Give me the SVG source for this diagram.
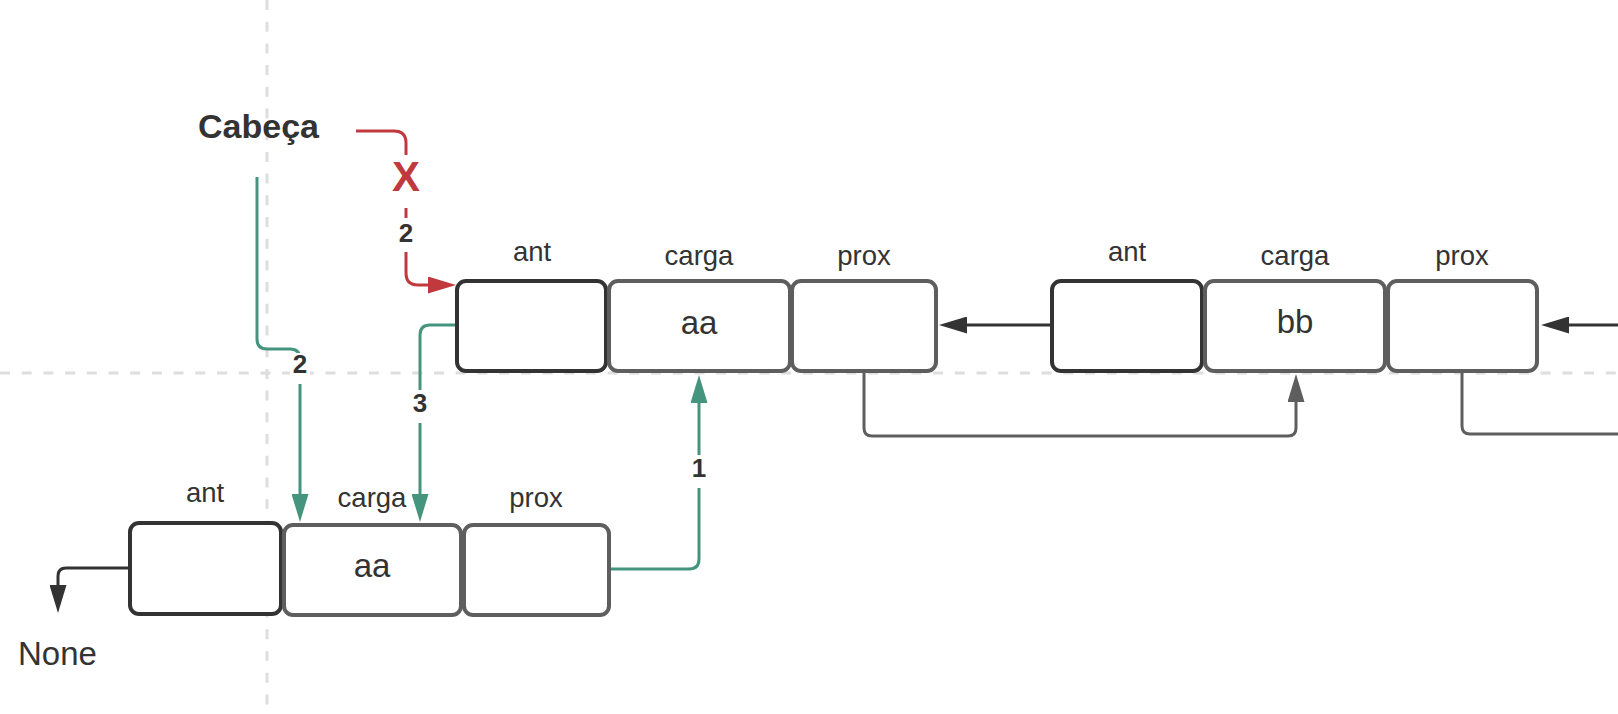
<svg xmlns="http://www.w3.org/2000/svg" width="1618" height="714" viewBox="0 0 1618 714">
<style>
text{font-family:"Liberation Sans",Arial,sans-serif;fill:#333333}
.lbl{font-size:27.5px;text-anchor:middle}
.val{font-size:33px;text-anchor:middle}
.num{font-size:26px;font-weight:bold;text-anchor:middle}
.ant{fill:#ffffff;stroke:#333333;stroke-width:4}
.box{fill:#ffffff;stroke:#5e5e5e;stroke-width:4}
.grid{stroke:#dedede;stroke-width:3;stroke-dasharray:10 11.7;fill:none}
.c{fill:none;stroke-width:3}
.bg{fill:#ffffff}
</style>
<defs>
<marker id="mRed" markerUnits="userSpaceOnUse" markerWidth="28" markerHeight="17" refX="0" refY="8.5" orient="auto"><path d="M0,0 L28,8.5 L0,17 z" fill="#c0393d"/></marker>
<marker id="mGreen" markerUnits="userSpaceOnUse" markerWidth="28" markerHeight="17" refX="0" refY="8.5" orient="auto"><path d="M0,0 L28,8.5 L0,17 z" fill="#45957e"/></marker>
<marker id="mDark" markerUnits="userSpaceOnUse" markerWidth="28" markerHeight="17" refX="0" refY="8.5" orient="auto"><path d="M0,0 L28,8.5 L0,17 z" fill="#333333"/></marker>
<marker id="mGray" markerUnits="userSpaceOnUse" markerWidth="28" markerHeight="17" refX="0" refY="8.5" orient="auto"><path d="M0,0 L28,8.5 L0,17 z" fill="#5e5e5e"/></marker>
</defs>
<rect width="1618" height="714" fill="#ffffff"/>
<g id="grid">
<line class="grid" x1="267" y1="0" x2="267" y2="714"/>
<line class="grid" x1="0" y1="373" x2="1618" y2="373"/>
</g>
<g id="cabeca"><text x="198" y="138" style="font-size:34px;font-weight:bold">Cabeça</text></g>
<g id="none"><text x="18" y="665" style="font-size:33px">None</text></g>
<g id="connectors">
<path class="c" stroke="#c0393d" d="M356,131 H394 Q406,131 406,143 V273 Q406,285 418,285 H428" marker-end="url(#mRed)"/>
<path class="c" stroke="#45957e" d="M257,177 V339 Q257,349 267,349 H290 Q300,349 300,359 V494" marker-end="url(#mGreen)"/>
<path class="c" stroke="#45957e" d="M457,325 H430 Q420,325 420,335 V494" marker-end="url(#mGreen)"/>
<path class="c" stroke="#45957e" d="M610,569 H689 Q699,569 699,559 V403" marker-end="url(#mGreen)"/>
<path class="c" stroke="#333333" d="M130,568 H66 Q58,568 58,576 V585" marker-end="url(#mDark)"/>
<path class="c" stroke="#333333" d="M1052,325 H967" marker-end="url(#mDark)"/>
<path class="c" stroke="#333333" d="M1618,325 H1569" marker-end="url(#mDark)"/>
<path class="c" stroke="#5e5e5e" d="M864,371 V428 Q864,436 872,436 H1288 Q1296,436 1296,428 V402" marker-end="url(#mGray)"/>
<path class="c" stroke="#5e5e5e" d="M1462,371 V426 Q1462,434 1470,434 H1618"/>
<rect class="bg" x="392" y="155" width="28" height="53"/>
<text x="406" y="191" style="font-size:42px;font-weight:bold;text-anchor:middle;fill:#c0393d">X</text>
<rect class="bg" x="396" y="218" width="20" height="34"/>
<text class="num" x="406" y="242">2</text>
<rect class="bg" x="290" y="353" width="20" height="31"/>
<text class="num" x="300" y="373">2</text>
<rect class="bg" x="410" y="390" width="20" height="33"/>
<text class="num" x="420" y="412">3</text>
<rect class="bg" x="689" y="455" width="20" height="33"/>
<text class="num" x="699" y="477">1</text>
</g>
<g id="node1">
<rect class="ant" x="457" y="281" width="149" height="90" rx="9"/>
<rect class="box" x="609" y="281" width="181" height="90" rx="9"/>
<rect class="box" x="792" y="281" width="144" height="90" rx="9"/>
<text class="lbl" x="532" y="261">ant</text>
<text class="lbl" x="699" y="265">carga</text>
<text class="lbl" x="864" y="265">prox</text>
<text class="val" x="699" y="334">aa</text>
</g>
<g id="node2">
<rect class="ant" x="1052" y="281" width="150" height="90" rx="9"/>
<rect class="box" x="1205" y="281" width="180" height="90" rx="9"/>
<rect class="box" x="1388" y="281" width="149" height="90" rx="9"/>
<text class="lbl" x="1127" y="261">ant</text>
<text class="lbl" x="1295" y="265">carga</text>
<text class="lbl" x="1462" y="265">prox</text>
<text class="val" x="1295" y="333">bb</text>
</g>
<g id="node3">
<rect class="ant" x="130" y="523" width="151" height="91" rx="9"/>
<rect class="box" x="284" y="525" width="177" height="90" rx="9"/>
<rect class="box" x="464" y="525" width="145" height="90" rx="9"/>
<text class="lbl" x="205" y="502">ant</text>
<text class="lbl" x="372" y="507">carga</text>
<text class="lbl" x="536" y="507">prox</text>
<text class="val" x="372" y="577">aa</text>
</g>
</svg>
